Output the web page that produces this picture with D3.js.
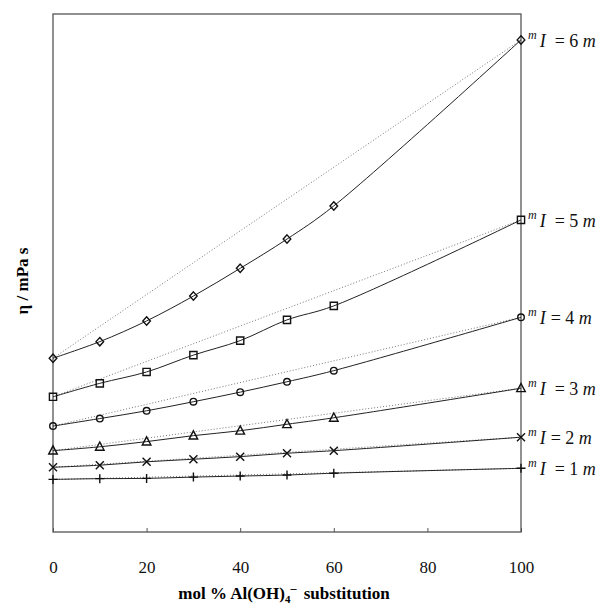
<!DOCTYPE html>
<html lang="en">
<head>
<meta charset="UTF-8">
<title>Viscosity vs Al(OH)4- substitution</title>
<script src="https://d3js.org/d3.v7.min.js"></script>
<style>
    body { margin: 0; background: #fff; }
    .frame { fill: none; stroke: #555; stroke-width: 1.3px; }
    .fit { fill: none; stroke: #222; stroke-width: 1px; }
    .ideal { fill: none; stroke: #666; stroke-width: 0.9px; stroke-dasharray: 1,2; }
    .mark { fill: none; stroke: #111; stroke-width: 1.4px; }
    .tick text { font: 17px "Liberation Serif", serif; fill: #111; }
    .lbl { font: 18px "Liberation Serif", serif; fill: #111; }
</style>
</head>
<body>
<script>
    // mol % Al(OH)4- substitution
    const substitution = [0, 10, 20, 30, 40, 50, 60, 100];
    const xTicks = [0, 20, 40, 60, 80, 100];

    // viscosity (mPa s), one array per ionic strength
    const eta1 = [2.03, 2.06, 2.07, 2.12, 2.16, 2.20, 2.27, 2.46];
    const eta2 = [2.50, 2.58, 2.71, 2.81, 2.91, 3.04, 3.14, 3.66];
    const eta3 = [3.14, 3.29, 3.49, 3.72, 3.91, 4.16, 4.41, 5.55];
    const eta4 = [4.09, 4.38, 4.68, 5.03, 5.40, 5.80, 6.23, 8.29];
    const eta5 = [5.22, 5.74, 6.18, 6.83, 7.39, 8.19, 8.73, 12.05];
    const eta6 = [6.71, 7.35, 8.15, 9.11, 10.18, 11.31, 12.59, 19.00];

    const strengths = [1, 2, 3, 4, 5, 6];
    const markers = ["plus", "cross", "triangle", "circle", "square", "diamond"];

    const series = [eta1, eta2, eta3, eta4, eta5, eta6].map((vals, i) => ({
        I: strengths[i],
        marker: markers[i],
        points: substitution.map((s, j) => ({x: s, y: vals[j]}))
    }));

    const margin = {top: 14, left: 53};
    const width = 468, height = 518;

    const svg = d3.select("body").append("svg")
        .attr("width", 606)
        .attr("height", 608);

    const g = svg.append("g")
        .attr("transform", "translate(" + margin.left + "," + margin.top + ")");

    const x = d3.scaleLinear().domain([0, 100]).range([0, width]);
    const y = d3.scaleLinear().domain([0, 20]).range([height, 0]);

    // x axis: small inward ticks, labels well below
    const xAxis = d3.axisBottom(x)
        .tickValues(xTicks)
        .tickSize(-4)
        .tickPadding(29);

    const ax = g.append("g")
        .attr("transform", "translate(0," + height + ")")
        .call(xAxis);
    ax.select(".domain").remove();
    ax.selectAll(".tick line").attr("stroke", "#555");

    g.append("rect")
        .attr("class", "frame")
        .attr("x", 0).attr("y", 0)
        .attr("width", width).attr("height", height);

    const fitLine = d3.line()
        .x(d => x(d.x))
        .y(d => y(d.y))
        .curve(d3.curveCatmullRom.alpha(0.5));

    series.forEach(s => {
        const first = s.points[0], last = s.points[s.points.length - 1];
        g.append("path")
            .attr("class", "ideal")
            .attr("d", d3.line().x(d => x(d.x)).y(d => y(d.y))([first, last]));
        g.append("path")
            .attr("class", "fit")
            .attr("d", fitLine(s.points));
    });

    function markerPath(type) {
        switch (type) {
            case "plus": return "M-4.5,0H4.5M0,-4.5V4.5";
            case "cross": return "M-4,-4L4,4M-4,4L4,-4";
            case "triangle": return "M0,-4.8L4.3,3.4H-4.3Z";
            case "square": return "M-3.6,-3.6H3.6V3.6H-3.6Z";
            case "diamond": return "M0,-4.2L3.8,0L0,4.2L-3.8,0Z";
            default: return "";
        }
    }

    series.forEach(s => {
        const mg = g.append("g");
        s.points.forEach(p => {
            if (s.marker === "circle") {
                mg.append("circle")
                    .attr("class", "mark")
                    .attr("cx", x(p.x)).attr("cy", y(p.y))
                    .attr("r", 3.3);
            } else {
                mg.append("path")
                    .attr("class", "mark")
                    .attr("d", markerPath(s.marker))
                    .attr("transform", "translate(" + x(p.x) + "," + y(p.y) + ")")
                    .attr("stroke-width", s.marker === "diamond" ? 2 : 1.4);
            }
        });
    });

    // series labels on the right
    series.forEach(s => {
        const last = s.points[s.points.length - 1];
        const t = svg.append("text")
            .attr("class", "lbl")
            .attr("x", margin.left + x(last.x) + 7)
            .attr("y", margin.top + y(last.y) + 7);
        t.append("tspan").attr("font-style", "italic").attr("font-size", 12)
            .attr("dy", -8).text("m");
        t.append("tspan").attr("font-style", "italic")
            .attr("dy", 8).attr("dx", 3).text("I");
        t.append("tspan").attr("dx", s.I === 2 || s.I === 4 ? 5 : 9).text("= " + s.I + " ");
        t.append("tspan").attr("font-style", "italic").text("m");
    });

    // axis titles
    const xt = svg.append("text")
        .attr("x", 284).attr("y", 599)
        .attr("text-anchor", "middle")
        .style("font", "bold 17px 'Liberation Serif', serif");
    xt.append("tspan").text("mol % Al(OH)");
    xt.append("tspan").attr("font-size", 11).attr("dy", 4).text("4");
    xt.append("tspan").attr("font-size", 12).attr("dy", -11).text("\u2013");
    xt.append("tspan").attr("dy", 7).attr("dx", 3).text("\u00a0substitution");

    svg.append("text")
        .attr("transform", "translate(28,281) rotate(-90)")
        .attr("text-anchor", "middle")
        .style("font", "bold 17px 'Liberation Serif', serif")
        .text("\u03b7 / mPa s");
</script>
</body>
</html>
